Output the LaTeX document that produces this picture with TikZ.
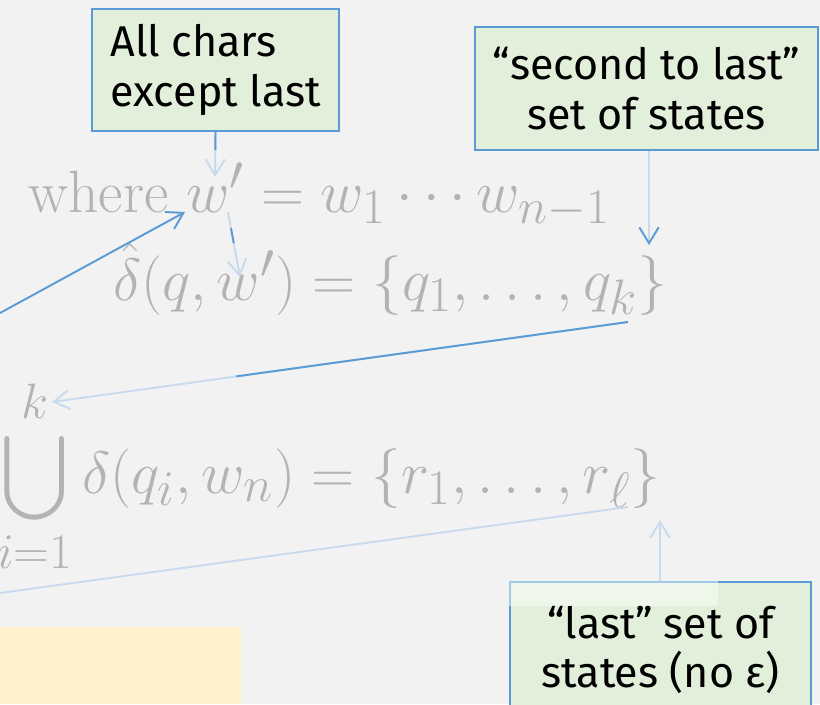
\documentclass[tikz,border=0pt]{standalone}
\usepackage{amsmath}
\usepackage{amssymb}
\usepackage{graphicx}
\usepackage{fontspec}
\setsansfont{Fira Sans}
\usetikzlibrary{arrows.meta,calc}
\definecolor{slidebg}{HTML}{F2F2F2}
\definecolor{mathgray}{HTML}{B3B3B3}
\definecolor{callblue}{HTML}{5B9BD5}
\definecolor{fadeblue}{HTML}{C8DBEE}
\definecolor{callgreen}{HTML}{E2EFDA}
\definecolor{noteyellow}{HTML}{FFF2CC}
\newcommand{\bigeq}[1]{\scalebox{1.3666}{#1}}
\tikzset{
  callout/.style={draw=callblue, fill=callgreen, line width=1.2pt, inner sep=0pt,
    font=\sffamily\fontsize{24.5}{28}\selectfont},
  eqline/.style={text=mathgray, inner sep=0pt, font=\fontsize{24.88}{30}\selectfont},
  hint/.style={line width=1.1pt},
}

\begin{document}
\begin{tikzpicture}[x=0.02cm, y=-0.02cm, >={Straight Barb[length=9pt,width=11pt]}]
\clip (0,0) rectangle (820,704);
\fill[slidebg] (0,0) rectangle (820,704);
\fill[noteyellow] (0,627) rectangle (241,704);

% the three lines of maths
\node[eqline, anchor=base west] (where) at (28,212) {\bigeq{where $w' = w_1 \cdots w_{n-1}$}};
\node[eqline, anchor=base west] (dhat) at (113,300) {\bigeq{$\hat{\delta}(q, w') = \{q_1, \ldots, q_k\}$}};
\node[eqline, anchor=base west] (union) at (-3,493) {\bigeq{$\displaystyle\bigcup_{i=1}^{k} \delta(q_i, w_n) = \{r_1, \ldots, r_\ell\}$}};

% callouts
\node[callout, align=left, minimum width=4.94cm, minimum height=2.44cm] (chars) at (215.5,70) {All chars\\except last};
\node[callout, align=center, minimum width=6.86cm, minimum height=2.46cm] (second) at (646.5,88.5) {“second to last”\\set of states};
\node[callout, align=center, minimum width=6.02cm, minimum height=2.72cm] (last) at (660.5,650) {“last” set of\\states (no ε)};
\fill[white, opacity=0.45] (509,581) rectangle (718,606);

\coordinate (wtop) at (215,177);
\coordinate (wfrom) at (228,212);
\coordinate (wto) at (240,277);
\coordinate (leftin) at (0,313);
\coordinate (wtip) at (185,212);
\coordinate (qtip) at (649,245);
\coordinate (qk) at (628,322);
\coordinate (ktip) at (52,402);
\coordinate (rl) at (628,507);
\coordinate (leftout) at (0,593);
\coordinate (rtip) at (660,520);

\draw[hint, fadeblue, ->] (chars.south) -- (wtop);
\draw[hint, callblue] (chars.south) -- ($(chars.south)!0.4!(wtop)$);
\draw[hint, fadeblue, ->] (wfrom) -- (wto);
\draw[hint, callblue] ($(wfrom)!0.25!(wto)$) -- ($(wfrom)!0.48!(wto)$);
\draw[hint, callblue, ->] (leftin) -- (wtip);
\draw[hint, fadeblue, -{Straight Barb[length=9pt,width=11pt,color=callblue]}] (second.south -| qtip) -- (qtip);
\draw[hint, fadeblue, ->] (qk) -- (ktip);
\draw[hint, callblue] (qk) -- ($(qk)!0.68!(ktip)$);
\draw[hint, fadeblue] (rl) -- (leftout);
\draw[hint, fadeblue, ->] (last.north -| rtip) -- (rtip);
\end{tikzpicture}
\end{document}
